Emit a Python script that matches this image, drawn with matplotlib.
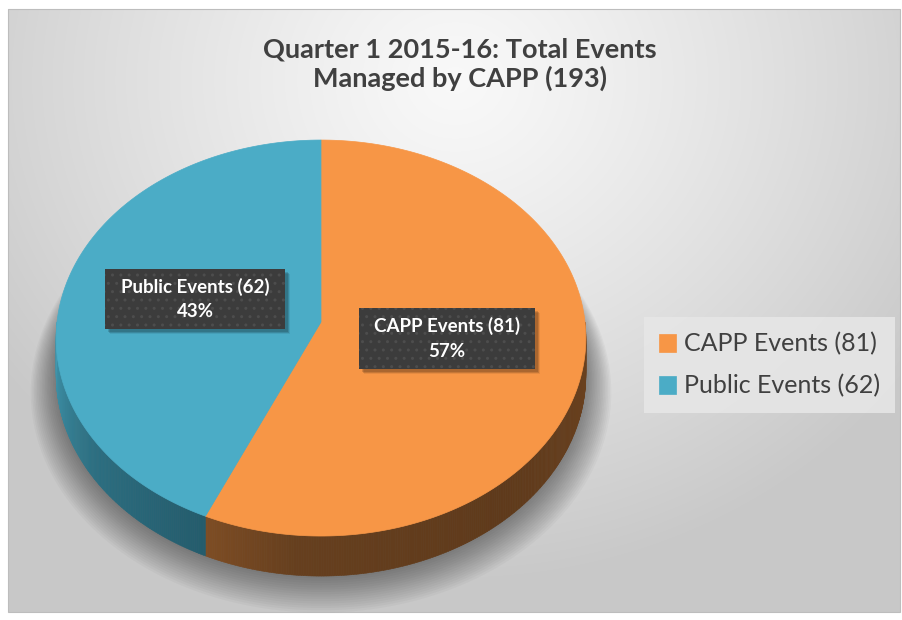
import numpy as np
import matplotlib
matplotlib.use("Agg")
import matplotlib.pyplot as plt
from matplotlib.patches import Polygon, Rectangle
from matplotlib.colors import to_rgb

# ---- data ----
categories = ["CAPP Events", "Public Events"]
counts = [81, 62]
title = "Quarter 1 2015-16: Total Events\nManaged by CAPP (193)"
top_colors = ["#F79646", "#4BACC6"]
# side shading stops (angle clockwise from 12 o'clock, colour)
side_stops = [
    [(90, "#6c421f"), (140, "#5f3a1b"), (185, "#663f1e"), (204, "#7e4d24")],
    [(204, "#245c6c"), (235, "#2c6f82"), (270, "#4399b0")],
]

plt.rcParams["font.family"] = ["Lato", "DejaVu Sans"]

W, H = 902, 620
fig = plt.figure(figsize=(W / 100, H / 100), dpi=100)
ax = fig.add_axes([0, 0, 1, 1])

# background: soft radial grey gradient inside a thin frame
yy, xx = np.mgrid[0:603, 0:892]
r = np.hypot(xx + 8 - 455, (yy + 9 - 80) / 0.9)
g = 0.975 - 0.19 * np.clip(r / 560, 0, 1) ** 1.2
ax.imshow(np.dstack([g, g, g]), extent=(8, 900, 612, 9), zorder=0,
          interpolation="bilinear")
ax.add_patch(Rectangle((8, 9), 892, 603, fill=False, ec="#bdbdbd", lw=0.8, zorder=1))

# ---- 3D pie geometry (pixel space, simple perspective) ----
cx, cy = 321, 322
A, B, e, D = 264, 196.7, 0.081, 36.8


def proj(theta, z=0.0):
    t = np.radians(theta)
    u, v = np.sin(t), np.cos(t)
    s = 1 / (1 + e * v)
    return cx + A * u * s, cy - B * v * s + D * z * s


def stop_color(stops, th):
    angs = [a for a, _ in stops]
    cols = np.array([to_rgb(c) for _, c in stops])
    return tuple(np.interp(th, angs, cols[:, k]) for k in range(3))


fracs = np.array(counts) / sum(counts)
edges = np.concatenate([[0], np.cumsum(fracs) * 360])

# soft shadow under the pie
th_all = np.linspace(0, 360, 361)
bx, by = proj(th_all, 1.0)
for k in range(16, 0, -1):
    sc = 1 + k * 0.006
    px = cx + (bx - cx) * sc
    py = cy + 40 + (by - cy - 40) * sc + k * 1.0
    ax.add_patch(Polygon(np.column_stack([px, py]), closed=True, fc="black",
                         alpha=0.026, lw=0, zorder=2))

# sides (front half only)
for i in range(len(counts)):
    a0, a1 = max(edges[i], 90), min(edges[i + 1], 270)
    if a1 <= a0:
        continue
    ths = np.linspace(a0, a1, int((a1 - a0) * 2) + 2)
    for t0, t1 in zip(ths[:-1], ths[1:]):
        x0, y0 = proj(t0); x1, y1 = proj(t1)
        x2, y2 = proj(t1, 1); x3, y3 = proj(t0, 1)
        col = stop_color(side_stops[i], (t0 + t1) / 2)
        ax.add_patch(Polygon([(x0, y0), (x1, y1), (x2, y2), (x3, y3)], closed=True,
                             fc=col, ec=col, lw=0.4, zorder=3))

# top faces
tops = []
for i in range(len(counts)):
    ths = np.linspace(edges[i], edges[i + 1], 200)
    px, py = proj(ths)
    pts = np.vstack([[proj(0, 0)[0], cy], np.column_stack([px, py])])
    p = Polygon(pts, closed=True, fc=top_colors[i], ec=top_colors[i], lw=0.5,
                zorder=4, label=f"{categories[i]} ({counts[i]})")
    ax.add_patch(p)
    tops.append(p)


# data labels: dark dotted boxes with drop shadow
def label_box(x0, y0, x1, y1, text):
    for k in range(1, 6):
        ax.add_patch(Rectangle((x0 + 2 + k * 0.6, y0 + 2 + k * 0.6), x1 - x0, y1 - y0,
                               fc="black", alpha=0.07, lw=0, zorder=5))
    ax.add_patch(Rectangle((x0, y0), x1 - x0, y1 - y0, fc="#3c3c3c", ec="#4d4d4d",
                           hatch="..", lw=0, zorder=6))
    ax.text((x0 + x1) / 2, (y0 + y1) / 2, text, ha="center", va="center",
            color="white", fontsize=13.5, fontweight="bold", linespacing=1.55, zorder=7)


pct = np.round(fracs * 100).astype(int)
label_box(105, 269, 285, 329, f"{categories[1]} ({counts[1]})\n{pct[1]}%")
label_box(359, 308, 535, 369, f"{categories[0]} ({counts[0]})\n{pct[0]}%")

# title
ax.text(460, 64, title, ha="center", va="center", fontsize=19.5, fontweight="bold",
        color="#404040", linespacing=1.2, zorder=7)

# legend
leg = ax.legend(handles=tops, loc="center left", bbox_to_anchor=(631 / W, 1 - 365 / H),
                bbox_transform=fig.transFigure, fontsize=18, frameon=True,
                fancybox=False, facecolor="#e6e6e6", edgecolor="none", framealpha=0.9,
                handlelength=0.7, handleheight=0.7, handletextpad=0.3,
                labelspacing=0.75, borderpad=0.6, labelcolor="#404040")
leg.set_zorder(8)

ax.set_xlim(0, W)
ax.set_ylim(H, 0)
ax.set_aspect("auto")
ax.axis("off")
fig.savefig("out.png", dpi=100, facecolor="white")
